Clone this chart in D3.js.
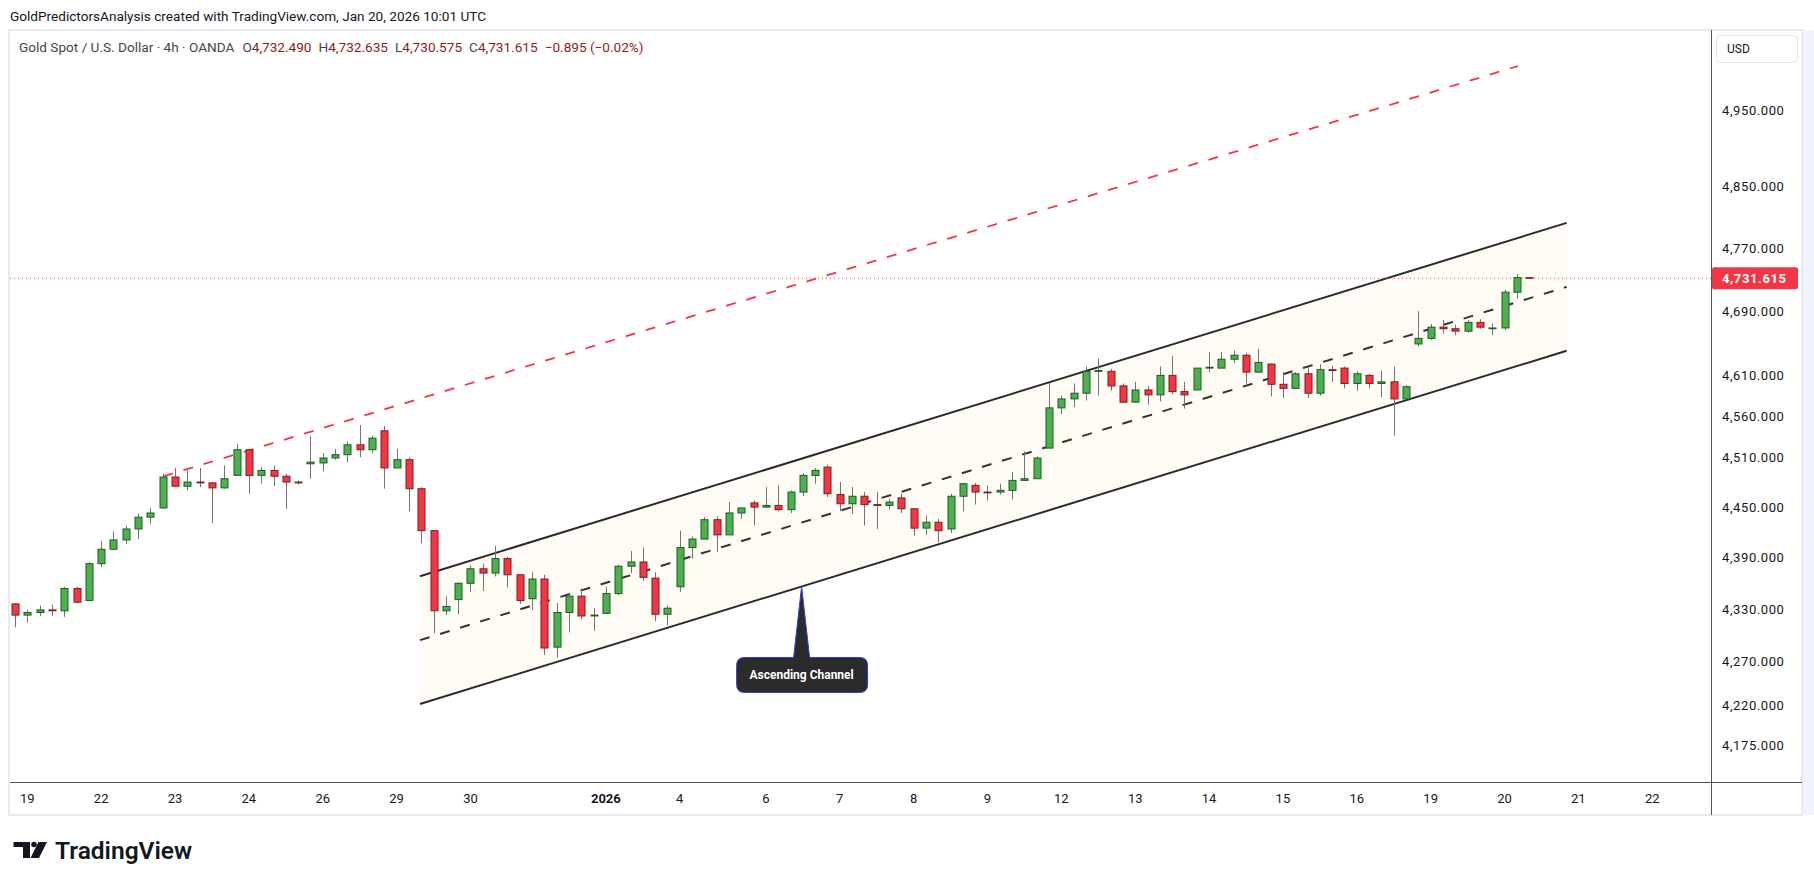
<!DOCTYPE html>
<html>
<head>
<meta charset="utf-8">
<script src="https://cdn.jsdelivr.net/npm/d3@7"></script>
<style>
  body { margin: 0; background: #fff; }
  svg text { font-family: Roboto, "Noto Sans", sans-serif; }
</style>
</head>
<body>
<div id="container"></div>
<script>
// XAUUSD 4h bars (Dec 18 -> Jan 20)
const open = [
  4336,4323,4326,4329,4328,4354,4340,4383,4400,4411,
  4424,4438,4449,4486,4475,4480,4479,4473,4488,4519,
  4488,4494,4487,4480,4502,4503,4509,4513,4525,4519,
  4542,4497,4507,4472,4422,4328,4341,4360,4377,4372,
  4389,4370,4342,4365,4286,4326,4345,4322,4325,4348,
  4380,4385,4366,4324,4356,4402,4412,4435,4417,4443,
  4455,4450,4452,4447,4468,4488,4498,4465,4454,4463,
  4453,4452,4461,4448,4425,4432,4424,4463,4476,4468,
  4468,4470,4482,4484,4521,4570,4581,4588,4615,4615,
  4597,4577,4592,4586,4610,4590,4592,4619,4619,4630,
  4635,4614,4624,4599,4594,4612,4588,4617,4619,4600,
  4610,4600,4602,4581,4649,4656,4670,4668,4665,4676,
  4668,4669,4714,4732.49
];
const high = [
  4337,4329,4334,4335,4356,4356,4385,4410,4421,4428,
  4442,4449,4490,4497,4494,4497,4480,4500,4526,4519,
  4498,4500,4490,4482,4536,4515,4520,4529,4549,4536,
  4548,4520,4510,4474,4422,4345,4361,4381,4383,4404,
  4391,4370,4373,4370,4337,4347,4354,4331,4356,4382,
  4398,4402,4373,4334,4422,4415,4438,4439,4456,4449,
  4458,4474,4476,4470,4491,4497,4501,4480,4474,4468,
  4468,4460,4466,4449,4440,4436,4466,4479,4479,4476,
  4478,4492,4517,4511,4601,4585,4600,4621,4631,4618,
  4600,4602,4597,4621,4634,4602,4619,4639,4639,4641,
  4638,4643,4625,4614,4614,4620,4624,4622,4621,4615,
  4612,4616,4621,4598,4690,4674,4679,4673,4679,4680,
  4675,4717,4737,4732.635
];
const low = [
  4309,4314,4322,4322,4321,4337,4340,4379,4399,4406,
  4412,4430,4448,4475,4470,4474,4431,4472,4488,4466,
  4478,4475,4448,4477,4484,4493,4507,4504,4510,4515,
  4472,4497,4445,4407,4302,4323,4324,4350,4351,4368,
  4355,4336,4329,4277,4274,4303,4318,4305,4325,4346,
  4372,4363,4316,4311,4350,4389,4412,4397,4417,4436,
  4428,4449,4445,4443,4463,4478,4462,4445,4442,4428,
  4424,4447,4443,4416,4417,4408,4419,4445,4453,4458,
  4465,4459,4482,4484,4521,4562,4571,4579,4585,4591,
  4576,4577,4574,4578,4587,4569,4592,4614,4619,4625,
  4600,4614,4584,4582,4594,4582,4585,4602,4594,4591,
  4594,4583,4536,4581,4646,4654,4662,4660,4663,4668,
  4660,4666,4706,4730.575
];
const close = [
  4323,4326,4329,4328,4354,4338,4383,4400,4411,4424,
  4438,4443,4486,4475,4480,4479,4473,4484,4519,4488,
  4494,4487,4480,4479,4504,4509,4513,4525,4519,4533,
  4497,4507,4472,4422,4328,4333,4360,4377,4372,4389,
  4370,4340,4365,4285,4326,4345,4322,4323,4348,4380,
  4385,4367,4324,4331,4402,4412,4435,4417,4443,4449,
  4450,4452,4447,4468,4488,4494,4466,4454,4463,4453,
  4452,4456,4448,4425,4432,4422,4463,4478,4468,4467,
  4470,4482,4484,4509,4570,4581,4588,4615,4616,4597,
  4577,4592,4586,4610,4590,4586,4619,4620,4630,4635,
  4614,4626,4599,4594,4612,4588,4617,4616,4600,4612,
  4600,4602,4581,4596,4656,4670,4668,4665,4676,4670,
  4669,4714,4732.51,4731.615
];

// first bar of each day on the time axis
const dayIdx = [1, 7, 13, 19, 25, 31, 37, 48, 54, 61, 67, 73, 79, 85, 91, 97, 103, 109, 115, 121, 127, 133];
const dayLabels = ["19","22","23","24","26","29","30","2026","4","6","7","8","9","12","13","14","15","16","19","20","21","22"];

const priceTicks = [4950, 4850, 4770, 4690, 4610, 4560, 4510, 4450, 4390, 4330, 4270, 4220, 4175];
const lastPrice = 4731.615;

// drawings, anchored as [bar index, price]
const channelUpper = [[32.9, 4368.3], [126.05, 4802.4]];
const channelLower = [[32.9, 4221.1], [126.05, 4640.5]];
const resistance = [[12.05, 4486.9], [122.1, 5008.7]];
const calloutBar = 63.9;

const W = 1814, H = 885;
const plotL = 10, plotR = 1711, plotT = 31, plotB = 782;

const svg = d3.select("#container").append("svg")
  .attr("width", W)
  .attr("height", H);

const x = d3.scaleLinear().domain([0, 123]).range([15, 15 + 123 * 12.31]);
const y = d3.scaleLog().domain([4175, 4950]).range([745, 110]);

// frame + axes panels
svg.append("rect").attr("x", 0).attr("y", 0).attr("width", W).attr("height", H).attr("fill", "#fff");
svg.append("rect").attr("x", 1802).attr("y", 30).attr("width", 12).attr("height", 785).attr("fill", "#f0f3fa");
svg.append("rect").attr("x", 9).attr("y", 30).attr("width", 1793).attr("height", 785)
  .attr("fill", "none").attr("stroke", "#e0e3eb").attr("stroke-width", 1.5);

svg.append("defs").append("clipPath").attr("id", "plot")
  .append("rect").attr("x", plotL).attr("y", plotT).attr("width", plotR - plotL).attr("height", plotB - plotT);

const plot = svg.append("g").attr("clip-path", "url(#plot)");

// channel
const pt = d => [x(d[0]), y(d[1])];
const up = channelUpper.map(pt), lo = channelLower.map(pt);
const mid = [[up[0][0], (up[0][1] + lo[0][1]) / 2], [up[1][0], (up[1][1] + lo[1][1]) / 2]];

plot.append("path")
  .attr("d", d3.line()([up[0], up[1], lo[1], lo[0]]) + "Z")
  .attr("fill", "#fffbf5");

plot.append("path").attr("d", d3.line()(up))
  .attr("stroke", "#2a2a2a").attr("stroke-width", 2).attr("fill", "none");
plot.append("path").attr("d", d3.line()(lo))
  .attr("stroke", "#2a2a2a").attr("stroke-width", 2).attr("fill", "none");
plot.append("path").attr("d", d3.line()(mid))
  .attr("stroke", "#333").attr("stroke-width", 2).attr("stroke-dasharray", "10,11").attr("fill", "none");

// red resistance line
plot.append("path").attr("d", d3.line()(resistance.map(pt)))
  .attr("stroke", "#f23645").attr("stroke-width", 1.8).attr("stroke-dasharray", "10,11").attr("fill", "none");

// last price dotted line
plot.append("line")
  .attr("x1", plotL).attr("x2", plotR)
  .attr("y1", y(lastPrice)).attr("y2", y(lastPrice))
  .attr("stroke", "#f23645").attr("stroke-dasharray", "1,3");

// candles
const bars = d3.range(open.length);
const candle = plot.append("g").selectAll("g").data(bars).join("g");

candle.append("line")
  .attr("x1", i => Math.round(x(i)) + 0.5).attr("x2", i => Math.round(x(i)) + 0.5)
  .attr("y1", i => y(high[i])).attr("y2", i => y(low[i]))
  .attr("stroke", "#737375").attr("stroke-width", 1);

candle.append("rect")
  .attr("x", i => Math.round(x(i)) - 3)
  .attr("width", 7)
  .attr("y", i => y(Math.max(open[i], close[i])))
  .attr("height", i => Math.max(0.01, Math.abs(y(open[i]) - y(close[i]))))
  .attr("fill", i => close[i] >= open[i] ? "#4caf50" : "#f23645")
  .attr("stroke", i => close[i] >= open[i] ? "#1b5e20" : "#7f1d1d")
  .attr("stroke-width", 1);

// callout "Ascending Channel"
const ax = x(calloutBar);
const ay = lo[0][1] + (ax - lo[0][0]) * (lo[1][1] - lo[0][1]) / (lo[1][0] - lo[0][0]);
const bx0 = ax - 65, bx1 = ax + 66, by0 = ay + 71, by1 = ay + 106, r = 8;
const callPath = `M${bx0 + r},${by0} H${ax - 8} L${ax},${ay} L${ax + 8},${by0} H${bx1 - r}
  Q${bx1},${by0} ${bx1},${by0 + r} V${by1 - r} Q${bx1},${by1} ${bx1 - r},${by1}
  H${bx0 + r} Q${bx0},${by1} ${bx0},${by1 - r} V${by0 + r} Q${bx0},${by0} ${bx0 + r},${by0} Z`;
svg.append("path").attr("d", callPath)
  .attr("fill", "#2b2b2b").attr("stroke", "#2e3fd6").attr("stroke-width", 1);
svg.append("text")
  .attr("x", ax).attr("y", (by0 + by1) / 2).attr("dy", "0.35em")
  .attr("text-anchor", "middle")
  .attr("fill", "#fff").attr("font-size", 12).attr("font-weight", "bold")
  .text("Ascending Channel");

// axes lines
svg.append("line").attr("x1", plotR + 0.5).attr("x2", plotR + 0.5).attr("y1", 30).attr("y2", 815)
  .attr("stroke", "#50535e");
svg.append("line").attr("x1", plotL).attr("x2", 1802).attr("y1", plotB + 0.5).attr("y2", plotB + 0.5)
  .attr("stroke", "#50535e");

// price axis
svg.append("g").selectAll("text").data(priceTicks).join("text")
  .attr("x", 1722).attr("y", d => y(d)).attr("dy", "0.35em")
  .attr("fill", "#131722").attr("font-size", 13).attr("letter-spacing", 0.6)
  .text(d => d3.format(",.3f")(d));

svg.append("rect").attr("x", 1712).attr("y", y(lastPrice) - 11).attr("width", 86).attr("height", 22)
  .attr("rx", 2).attr("fill", "#f23645");
svg.append("text").attr("x", 1722).attr("y", y(lastPrice)).attr("dy", "0.35em")
  .attr("fill", "#fff").attr("font-size", 13).attr("font-weight", "bold").attr("letter-spacing", 0.6)
  .text(d3.format(",.3f")(lastPrice));

svg.append("rect").attr("x", 1716.5).attr("y", 35.5).attr("width", 81).attr("height", 27).attr("rx", 4)
  .attr("fill", "#fff").attr("stroke", "#e0e3eb");
svg.append("text").attr("x", 1727).attr("y", 49).attr("dy", "0.35em")
  .attr("fill", "#131722").attr("font-size", 12).text("USD");

// time axis
svg.append("g").selectAll("text").data(dayIdx).join("text")
  .attr("x", i => x(i)).attr("y", 798).attr("dy", "0.35em")
  .attr("text-anchor", "middle")
  .attr("fill", "#131722").attr("font-size", 13)
  .attr("font-weight", (d, k) => dayLabels[k] === "2026" ? "bold" : "normal")
  .text((d, k) => dayLabels[k]);

// header + legend
svg.append("text").attr("x", 10).attr("y", 16).attr("dy", "0.35em")
  .attr("fill", "#131722").attr("font-size", 13.6)
  .text("GoldPredictorsAnalysis created with TradingView.com, Jan 20, 2026 10:01 UTC");

const last = open.length - 1;
const f3 = d3.format(",.3f");
const legend = svg.append("text").attr("x", 19).attr("y", 47).attr("dy", "0.35em").attr("font-size", 13.6)
  .attr("fill", "#434651");
legend.append("tspan").text("Gold Spot / U.S. Dollar · 4h · OANDA");
[["O", open[last]], ["H", high[last]], ["L", low[last]], ["C", close[last]]].forEach(([k, v], n) => {
  legend.append("tspan").attr("dx", n === 0 ? 8 : 7).text(k);
  legend.append("tspan").attr("fill", "#8c1c1c").text(f3(v));
});
// change vs previous close
const chg = close[last] - close[last - 1];
legend.append("tspan").attr("dx", 7).attr("fill", "#8c1c1c")
  .text(`${d3.format(".3f")(chg).replace("-", "−")} (${d3.format(".2f")(chg / close[last - 1] * 100).replace("-", "−")}%)`);

// TradingView logo
const logo = svg.append("g").attr("fill", "#131722");
logo.append("path").attr("d", "M13.5 842 H30 V858 H23 V847 H13.5 Z");
logo.append("circle").attr("cx", 34).attr("cy", 844.5).attr("r", 2.8);
logo.append("path").attr("d", "M38.5 842 H47 L39 858 H30.5 Z");
svg.append("text").attr("x", 55).attr("y", 859).attr("fill", "#131722")
  .attr("font-size", 24.5).attr("font-weight", 600).text("TradingView");
</script>
</body>
</html>
